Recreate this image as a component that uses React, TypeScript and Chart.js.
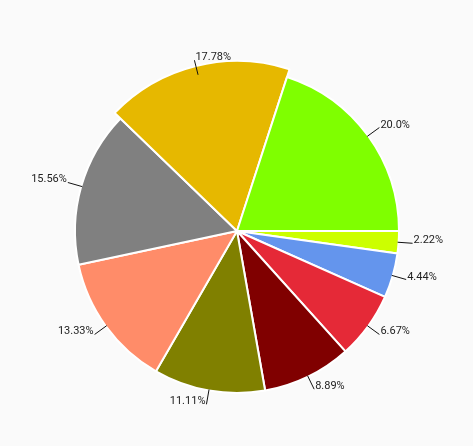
import React, { useEffect, useRef } from "react";
import { Chart, registerables } from "chart.js";

Chart.register(...registerables);

const categories = ["A", "B", "C", "D", "E", "F", "G", "H", "I"];
const values = [1, 2, 3, 4, 5, 6, 7, 8, 9];
const valueLabels = ["2.22%", "4.44%", "6.67%", "8.89%", "11.11%", "13.33%", "15.56%", "17.78%", "20.0%"];
const sliceColors = [
  "#CCFF00",
  "#6495ED",
  "#E52937",
  "#800000",
  "#808000",
  "#FF8C69",
  "#808080",
  "#E6B800",
  "#7FFF00",
];
const highlightedIndex = 7;

const highlightPlugin = {
  id: "highlightSlice",
  afterDatasetsUpdate(chart: any) {
    const meta = chart.getDatasetMeta(0);
    const arc = meta.data[highlightedIndex];
    if (arc) arc.outerRadius = arc.outerRadius + 8;
  },
};

const labelPlugin = {
  id: "outsideLabels",
  afterDatasetsDraw(chart: any) {
    const ctx = chart.ctx;
    const meta = chart.getDatasetMeta(0);
    const base = chart.options.radiusBase as number;
    ctx.save();
    ctx.font = "11px Roboto";
    ctx.fillStyle = "#222222";
    ctx.strokeStyle = "#111111";
    ctx.lineWidth = 1;
    ctx.textBaseline = "alphabetic";
    meta.data.forEach((arc: any, i: number) => {
      const mid = (arc.startAngle + arc.endAngle) / 2;
      const r0 = base - 1;
      const r1 = base + 14;
      const x0 = arc.x + Math.cos(mid) * r0;
      const y0 = arc.y + Math.sin(mid) * r0;
      const x1 = arc.x + Math.cos(mid) * r1;
      const y1 = arc.y + Math.sin(mid) * r1;
      ctx.beginPath();
      ctx.moveTo(x0, y0);
      ctx.lineTo(x1, y1);
      ctx.stroke();
      let deg = (mid * 180) / Math.PI;
      deg = ((deg % 360) + 360) % 360;
      const rightAlign = deg > 70 && deg < 250;
      ctx.textAlign = rightAlign ? "right" : "left";
      ctx.fillText(valueLabels[i], rightAlign ? x1 - 1 : x1 + 1, y1);
    });
    ctx.restore();
  },
};

export default function App() {
  const ref = useRef<HTMLCanvasElement>(null);
  useEffect(() => {
    document.body.style.margin = "0";
    document.body.style.background = "#FAFAFA";
    const chart = new Chart(ref.current as HTMLCanvasElement, {
      type: "pie",
      data: {
        labels: categories,
        datasets: [
          {
            data: values,
            backgroundColor: sliceColors,
            borderColor: "#FFFFFF",
            borderWidth: 2,
          },
        ],
      },
      options: {
        responsive: false,
        animation: false,
        events: [],
        rotation: 90,
        radius: 162,
        radiusBase: 162,
        layout: { padding: { top: 16, bottom: 0, left: 1, right: 0 } },
        plugins: {
          legend: { display: false },
          tooltip: { enabled: false },
        },
      } as any,
      plugins: [highlightPlugin, labelPlugin],
    });
    return () => chart.destroy();
  }, []);
  return (
    <div style={{ width: 473, height: 446, background: "#FAFAFA" }}>
      <canvas ref={ref} width={473} height={446} style={{ display: "block" }} />
    </div>
  );
}
